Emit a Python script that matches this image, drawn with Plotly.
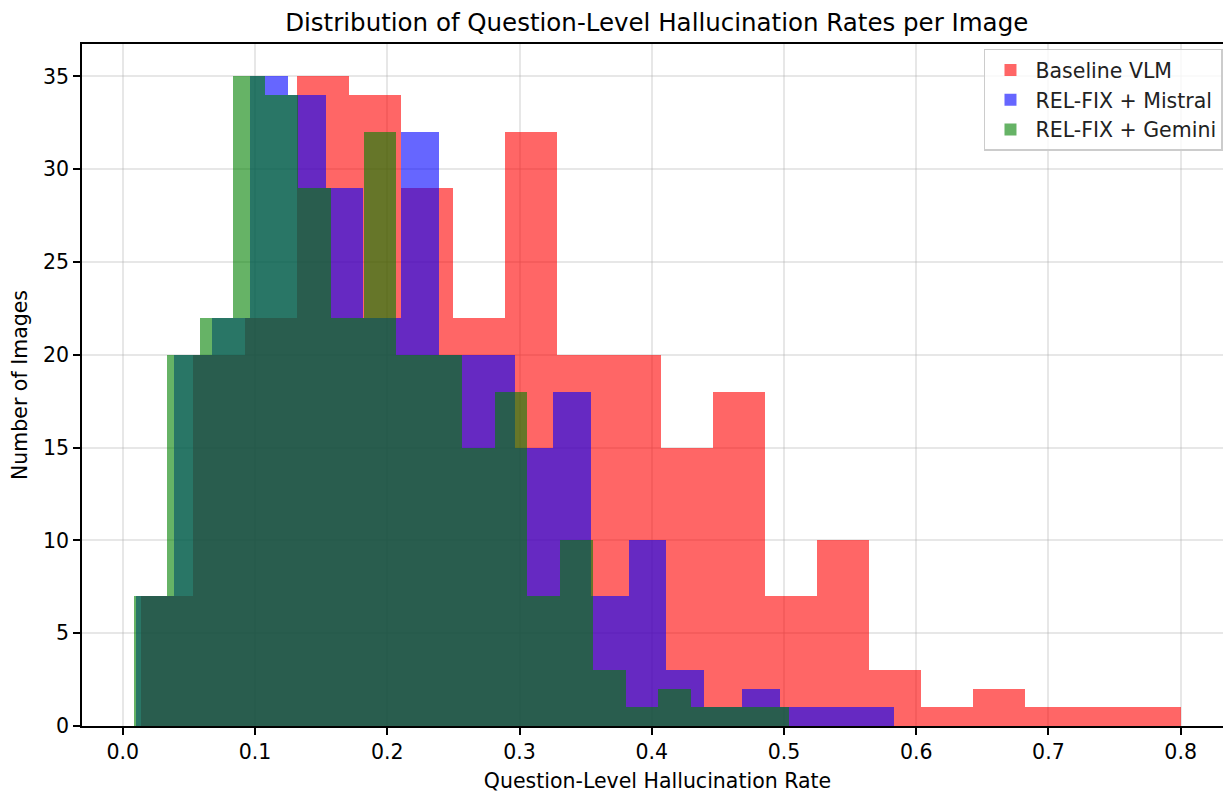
import numpy as np
import plotly.graph_objects as go

# --- data (20 bins per series) ---
series_names = ["Baseline VLM", "REL-FIX + Mistral", "REL-FIX + Gemini"]
baseline_counts = [7, 20, 22, 35, 34, 29, 22, 32, 20, 20, 15, 18, 7, 10, 3, 1, 2, 1, 1, 1]
mistral_counts = [7, 20, 22, 35, 34, 29, 22, 32, 20, 20, 15, 18, 7, 10, 3, 1, 2, 1, 1, 1]
gemini_counts = [7, 20, 22, 35, 34, 29, 22, 32, 20, 20, 15, 18, 7, 10, 3, 1, 2, 1, 1, 1]
baseline_range = [0.0138, 0.800]
mistral_range = [0.0101, 0.583]
gemini_range = [0.0087, 0.504]
x_ticks = [0.0, 0.1, 0.2, 0.3, 0.4, 0.5, 0.6, 0.7, 0.8]
y_ticks = [0, 5, 10, 15, 20, 25, 30, 35]

colors = ["rgba(255,0,0,0.6)", "rgba(0,0,255,0.6)", "rgba(0,128,0,0.6)"]

fig = go.Figure()
for name, counts, rng, col in zip(series_names,
                                  [baseline_counts, mistral_counts, gemini_counts],
                                  [baseline_range, mistral_range, gemini_range],
                                  colors):
    edges = np.linspace(rng[0], rng[1], len(counts) + 1)
    centers = (edges[:-1] + edges[1:]) / 2
    widths = np.diff(edges)
    fig.add_trace(go.Bar(x=centers, y=counts, width=widths, name=name,
                         marker=dict(color=col, line=dict(width=0))))

font = "DejaVu Sans, sans-serif"
fs = 20.5
fig.update_layout(
    width=1231, height=792,
    barmode="overlay", bargap=0,
    plot_bgcolor="white", paper_bgcolor="white",
    margin=dict(l=74, r=6, t=36, b=74),
    font=dict(family=font, size=fs, color="black"),
    title=dict(text="Distribution of Question-Level Hallucination Rates per Image",
               x=0.527, xanchor="center", y=1 - 14 / 792, yanchor="middle",
               yref="container", font=dict(size=24.5, family=font, color="black")),
    legend=dict(x=0.9913, xanchor="right", y=0.993, yanchor="top",
                bgcolor="rgba(255,255,255,0.8)", bordercolor="#cccccc", borderwidth=1.5,
                font=dict(size=fs, family=font, color="#222"),
                itemwidth=40, tracegroupgap=0),
    xaxis=dict(range=[-0.0309, 0.8396], tickvals=x_ticks, tickformat=".1f",
               showgrid=True, gridcolor="rgba(176,176,176,0.3)", gridwidth=1.5,
               showline=True, linecolor="black", linewidth=1.5, mirror=True,
               ticks="outside", ticklen=7, tickwidth=1.5, tickcolor="black", zeroline=False,
               layer="above traces",
               title=dict(text="Question-Level Hallucination Rate", standoff=10,
                          font=dict(size=fs, family=font))),
    yaxis=dict(range=[0, 36.75], tickvals=y_ticks,
               showgrid=True, gridcolor="rgba(176,176,176,0.3)", gridwidth=1.5,
               showline=True, linecolor="black", linewidth=1.5, mirror=False,
               ticks="outside", ticklen=7, tickwidth=1.5, tickcolor="black", zeroline=False,
               layer="above traces",
               title=dict(text="Number of Images", standoff=12,
                          font=dict(size=fs, family=font))),
)

fig.write_html("out.html")
